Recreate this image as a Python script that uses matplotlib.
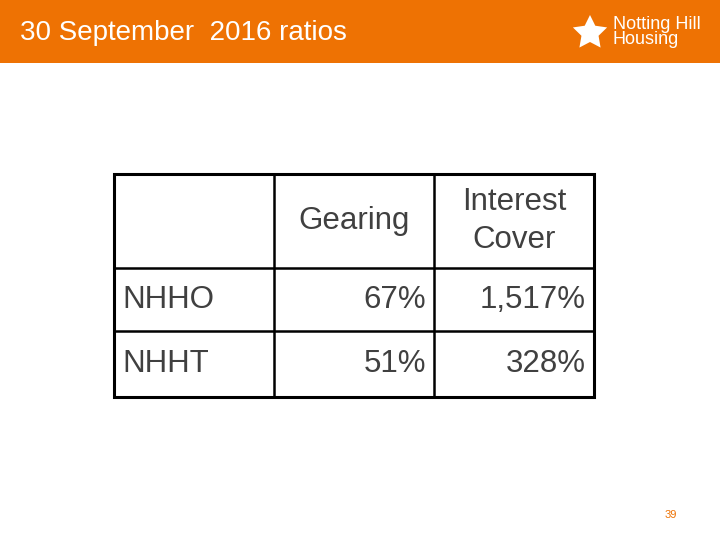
import matplotlib.pyplot as plt
from matplotlib.patches import Rectangle, Polygon
import numpy as np

plt.rcParams['font.family'] = ['Liberation Sans', 'DejaVu Sans']

title = "30 September  2016 ratios"
columns = ["", "Gearing", "Interest\nCover"]
rows = ["NHHO", "NHHT"]
gearing = ["67%", "51%"]
interest_cover = ["1,517%", "328%"]

orange = "#EE7203"
grey = "#404040"

fig = plt.figure(figsize=(7.2, 5.4), dpi=100)
ax = fig.add_axes([0, 0, 1, 1])
ax.set_xlim(0, 720)
ax.set_ylim(540, 0)
ax.axis('off')

# header band
ax.add_patch(Rectangle((0, 0), 720, 63, color=orange, lw=0))
ax.text(20, 33, title, color='white', fontsize=20, va='center', ha='left')

# logo: simple flower + text
ang = np.linspace(0, 2 * np.pi, 11)[:-1] + np.pi / 2
rad = np.where(np.arange(10) % 2 == 0, 18, 9)
pts = np.c_[590 + rad * np.cos(ang), 33 - rad * np.sin(ang)]
ax.add_patch(Polygon(pts, closed=True, color='white', lw=0))
ax.text(613, 32, "Notting Hill\nHousing", color='white', fontsize=13,
        va='center', ha='left', linespacing=0.9)

# table
xs = [114, 274, 434, 594]
ys = [174, 268, 331, 397]
for x in xs[1:-1]:
    ax.plot([x, x], [ys[0], ys[-1]], color='black', lw=1.8)
for y in ys[1:-1]:
    ax.plot([xs[0], xs[-1]], [y, y], color='black', lw=1.8)
ax.add_patch(Rectangle((xs[0], ys[0]), xs[-1] - xs[0], ys[-1] - ys[0],
                       fill=False, ec='black', lw=2.2))

fs = 22.5
for j, c in enumerate(columns):
    if c:
        ax.text((xs[j] + xs[j + 1]) / 2, (ys[0] + ys[1]) / 2, c, color=grey,
                fontsize=fs, ha='center', va='center', linespacing=1.35)
for i, r in enumerate(rows):
    yc = (ys[i + 1] + ys[i + 2]) / 2
    ax.text(xs[0] + 8, yc, r, color=grey, fontsize=fs, ha='left', va='center')
    ax.text(xs[2] - 8, yc, gearing[i], color=grey, fontsize=fs, ha='right', va='center')
    ax.text(xs[3] - 8, yc, interest_cover[i], color=grey, fontsize=fs, ha='right', va='center')

ax.text(671, 515, "39", color=orange, fontsize=8, ha='center', va='center')

fig.savefig("out.png", dpi=100)
